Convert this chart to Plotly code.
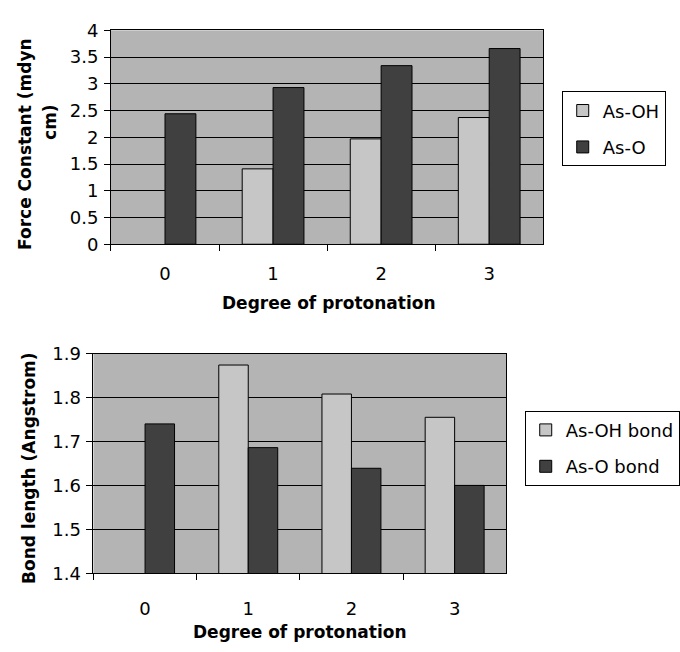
import plotly.graph_objects as go

categories = ["0", "1", "2", "3"]
force_as_oh = [None, 1.41, 1.97, 2.37]
force_as_o = [2.44, 2.93, 3.34, 3.66]
bond_as_oh = [None, 1.874, 1.808, 1.755]
bond_as_o = [1.74, 1.686, 1.639, 1.60]

W, H = 680, 652
LIGHT = "#c6c6c6"
DARK = "#404040"
BG = "#b4b4b4"
FONT = "DejaVu Sans"

fig = go.Figure()
fig.add_trace(go.Bar(x=categories, y=force_as_oh, name="As-OH", marker=dict(color=LIGHT, line=dict(color="black", width=1)),
                     xaxis="x", yaxis="y", legend="legend", legendgroup="a"))
fig.add_trace(go.Bar(x=categories, y=force_as_o, name="As-O", marker=dict(color=DARK, line=dict(color="black", width=1)),
                     xaxis="x", yaxis="y", legend="legend", legendgroup="b"))
fig.add_trace(go.Bar(x=categories, y=bond_as_oh, name="As-OH bond", marker=dict(color=LIGHT, line=dict(color="black", width=1)),
                     xaxis="x2", yaxis="y2", legend="legend2", legendgroup="c"))
fig.add_trace(go.Bar(x=categories, y=bond_as_o, name="As-O bond", marker=dict(color=DARK, line=dict(color="black", width=1)),
                     xaxis="x2", yaxis="y2", legend="legend2", legendgroup="d"))

def px(x):
    return x / W

def py(y):
    return 1 - y / H

tickfont = dict(family=FONT, size=18, color="black")
common_x = dict(type="category", tickson="boundaries", ticks="outside", ticklen=6, tickcolor="black",
                showline=True, linecolor="black", mirror=True, showgrid=False, tickfont=tickfont)
common_y = dict(ticks="outside", ticklen=6, tickcolor="black", showline=True, linecolor="black", mirror=True,
                showgrid=True, gridcolor="black", gridwidth=1, tickfont=tickfont, zeroline=False,
                ticklabelstandoff=2)

legend_common = dict(xanchor="left", yanchor="top", bgcolor="white", bordercolor="black", borderwidth=1,
                     font=dict(family=FONT, size=18, color="black"), tracegroupgap=10,
                     traceorder="grouped", xref="paper", yref="paper")

fig.update_layout(
    width=W, height=H,
    margin=dict(l=0, r=0, t=0, b=0),
    paper_bgcolor="white",
    plot_bgcolor=BG,
    barmode="group",
    bargap=0.4286,
    bargroupgap=0,
    showlegend=True,
    xaxis=dict(domain=[px(114), px(558)], anchor="y", ticklabelstandoff=13, **common_x),
    yaxis=dict(domain=[py(241), py(20)], anchor="x", range=[0, 4], dtick=0.5, **common_y),
    xaxis2=dict(domain=[px(96), px(520)], anchor="y2", ticklabelstandoff=19, **common_x),
    yaxis2=dict(domain=[py(581), py(354)], anchor="x2", range=[1.4, 1.9], dtick=0.1, tickformat=".1f", **common_y),
    legend=dict(x=px(577), y=py(83), **legend_common),
    legend2=dict(x=px(539), y=py(413), **legend_common),
)

titlefont = dict(family=FONT, size=17, color="black", weight="bold")
ann = [
    dict(text="Degree of protonation", x=px(338), y=py(302)),
    dict(text="Degree of protonation", x=px(308), y=py(642)),
    dict(text="Force Constant (mdyn", x=px(25), y=py(138), textangle=-90),
    dict(text="cm)", x=px(52), y=py(115), textangle=-90),
    dict(text="Bond length (Angstrom)", x=px(30), y=py(472), textangle=-90),
]
for a in ann:
    fig.add_annotation(xref="paper", yref="paper", showarrow=False, xanchor="center", yanchor="middle",
                       font=titlefont, **a)

fig.write_html("out.html")
